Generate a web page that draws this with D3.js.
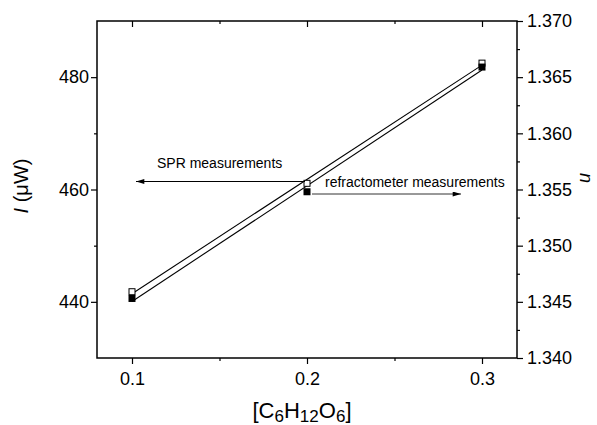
<!DOCTYPE html>
<html>
<head>
<meta charset="utf-8">
<script src="https://cdn.jsdelivr.net/npm/d3@7"></script>
<style>
body { margin: 0; background: #fff; }
text { font-family: "Liberation Sans", Arial, sans-serif; }
</style>
</head>
<body>
<svg id="chart" width="597" height="425"></svg>
<script>
// data
var conc = [0.1, 0.2, 0.3];
var sprPower = [441.8, 461.1, 482.5];     // open squares, left axis (I, uW)
var refIndex = [1.3453, 1.3548, 1.3659];  // filled squares, right axis (n)
var xTicks = [0.1, 0.2, 0.3];
var leftTicks = [440, 460, 480];
var rightTicks = [1.340, 1.345, 1.350, 1.355, 1.360, 1.365, 1.370];

var svg = d3.select("#chart");
var L = 97, R = 517, T = 21, B = 358;

var x = d3.scaleLinear().domain([0.08, 0.32]).range([L, R]);
var yL = d3.scaleLinear().domain([430, 490]).range([B, T]);
var yR = d3.scaleLinear().domain([1.340, 1.370]).range([B, T]);

// least squares line through a series
function fit(xs, ys){
	var mx = d3.mean(xs), my = d3.mean(ys);
	var num = 0, den = 0;
	xs.forEach(function(v, i){ num += (v - mx) * (ys[i] - my); den += (v - mx) * (v - mx); });
	var b = num / den;
	return function(v){ return my + b * (v - mx); };
}

var defs = svg.append("defs");
defs.append("marker").attr("id", "ah")
	.attr("viewBox", "0 0 10 6").attr("refX", 10).attr("refY", 3)
	.attr("markerWidth", 10).attr("markerHeight", 5).attr("markerUnits", "userSpaceOnUse")
	.attr("orient", "auto")
	.append("path").attr("d", "M0,0L10,3L0,6Z").attr("fill", "#000");

// axes
svg.append("g").attr("transform", "translate(0," + B + ")")
	.call(d3.axisBottom(x).tickValues(xTicks).tickSize(6).tickPadding(8).tickFormat(d3.format(".1f")));
svg.append("g").attr("transform", "translate(0," + B + ")")
	.call(d3.axisBottom(x).tickValues([0.15, 0.25]).tickSize(3).tickFormat(""));
svg.append("g").attr("transform", "translate(0," + T + ")")
	.call(d3.axisBottom(x).tickValues(xTicks).tickSize(6).tickFormat(""));
svg.append("g").attr("transform", "translate(0," + T + ")")
	.call(d3.axisBottom(x).tickValues([0.15, 0.25]).tickSize(3).tickFormat(""));
svg.append("g").attr("transform", "translate(" + L + ",0)")
	.call(d3.axisLeft(yL).tickValues(leftTicks).tickSize(6).tickPadding(2).tickFormat(d3.format("d")));
svg.append("g").attr("transform", "translate(" + L + ",0)")
	.call(d3.axisLeft(yL).tickValues([450, 470]).tickSize(3).tickFormat(""));
svg.append("g").attr("transform", "translate(" + R + ",0)")
	.call(d3.axisRight(yR).tickValues(rightTicks).tickSize(6).tickPadding(4).tickFormat(d3.format(".3f")));
svg.append("g").attr("transform", "translate(" + R + ",0)")
	.call(d3.axisRight(yR).tickValues([1.3425, 1.3475, 1.3525, 1.3575, 1.3625, 1.3675]).tickSize(3).tickFormat(""));

svg.selectAll(".domain").attr("stroke", "none");
svg.selectAll(".tick line").attr("stroke", "#000").attr("stroke-width", 1.2);
svg.selectAll(".tick text").attr("font-size", 18).attr("fill", "#000");
svg.append("rect").attr("x", L).attr("y", T).attr("width", R - L).attr("height", B - T)
	.attr("fill", "none").attr("stroke", "#000").attr("stroke-width", 1.5);

// fitted lines
var f1 = fit(conc, sprPower), f2 = fit(conc, refIndex);
svg.append("line").attr("x1", x(0.1)).attr("x2", x(0.3))
	.attr("y1", yL(f1(0.1))).attr("y2", yL(f1(0.3))).attr("stroke", "#000").attr("stroke-width", 1.1);
svg.append("line").attr("x1", x(0.1)).attr("x2", x(0.3))
	.attr("y1", yR(f2(0.1))).attr("y2", yR(f2(0.3))).attr("stroke", "#000").attr("stroke-width", 1.1);

// markers
svg.selectAll(".spr").data(conc).enter().append("rect")
	.attr("x", function(d){ return x(d) - 3; })
	.attr("y", function(d, i){ return yL(sprPower[i]) - 3; })
	.attr("width", 6).attr("height", 6)
	.attr("fill", "#fff").attr("stroke", "#000").attr("stroke-width", 1);
svg.selectAll(".ref").data(conc).enter().append("rect")
	.attr("x", function(d){ return x(d) - 3.5; })
	.attr("y", function(d, i){ return yR(refIndex[i]) - 3.5; })
	.attr("width", 7).attr("height", 7).attr("fill", "#000");

// annotations
svg.append("line").attr("x1", 305).attr("y1", 181.5).attr("x2", 136).attr("y2", 181.5)
	.attr("stroke", "#000").attr("stroke-width", 1).attr("marker-end", "url(#ah)");
svg.append("text").attr("x", 157).attr("y", 168).attr("font-size", 14).text("SPR measurements");
svg.append("line").attr("x1", 312).attr("y1", 194).attr("x2", 461).attr("y2", 194)
	.attr("stroke", "#333").attr("stroke-width", 1).attr("marker-end", "url(#ah)");
svg.append("text").attr("x", 325).attr("y", 186.5).attr("font-size", 14).text("refractometer measurements");

// axis titles
var yt = svg.append("text").attr("transform", "translate(28,186) rotate(-90)")
	.attr("text-anchor", "middle").attr("font-size", 20);
yt.append("tspan").attr("font-style", "italic").text("I");
yt.append("tspan").text(" (\u03bcW)");

svg.append("text").attr("transform", "translate(580,178) rotate(90)")
	.attr("text-anchor", "middle").attr("font-size", 18).attr("font-style", "italic").text("n");

var xt = svg.append("text").attr("x", 302).attr("y", 418).attr("text-anchor", "middle").attr("font-size", 22);
xt.append("tspan").text("[C");
xt.append("tspan").attr("font-size", 17).attr("dy", 4).text("6");
xt.append("tspan").attr("dy", -4).text("H");
xt.append("tspan").attr("font-size", 17).attr("dy", 4).text("12");
xt.append("tspan").attr("dy", -4).text("O");
xt.append("tspan").attr("font-size", 17).attr("dy", 4).text("6");
xt.append("tspan").attr("dy", -4).text("]");
</script>
</body>
</html>
